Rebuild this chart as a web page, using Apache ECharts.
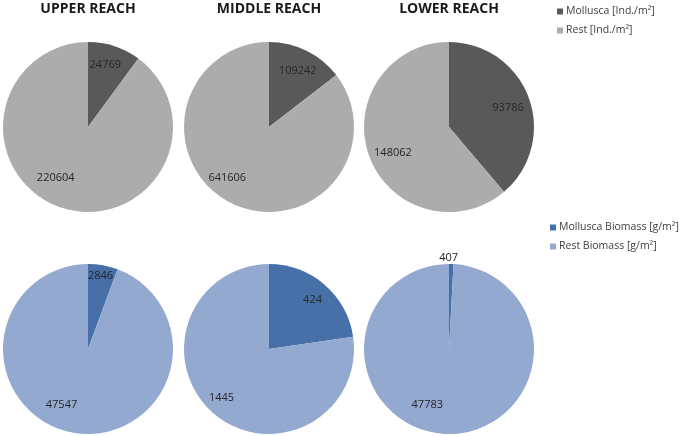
<!DOCTYPE html>
<html>
<head>
<meta charset="utf-8">
<script src="https://cdn.jsdelivr.net/npm/echarts@6/dist/echarts.min.js"></script>
<style>html,body{margin:0;padding:0;background:#fff}#c{width:685px;height:436px}</style>
</head>
<body>
<div id="c"></div>
<script>
// ---- data ----
const reaches = ['UPPER REACH', 'MIDDLE REACH', 'LOWER REACH'];
const abundanceNames = ['Mollusca [Ind./m²]', 'Rest [Ind./m²]'];
const biomassNames = ['Mollusca Biomass [g/m²]', 'Rest Biomass [g/m²]'];
const molluscaAbundance = [24769, 109242, 93786];
const restAbundance = [220604, 641606, 148062];
const molluscaBiomass = [2846, 424, 407];
const restBiomass = [47547, 1445, 47783];

// ---- styles ----
const grayColors = ['#595959', '#acacac'];
const blueColors = ['#4670a7', '#94a9d0'];
const centersX = [88, 269, 449];
const rowY = [127, 349];
const R = 85;
const FONT = 'Open Sans';
// fine label nudges (px) per [row][reach][slice]
const labelNudge = [
  [[[-3, 0], [-12, -11]], [[0, 2], [-13, -8]], [[-2, 3], [5, 3]]],
  [[[1, -9], [-15, -8]], [[1, 0], [-5, 0]], [[-2, -26], [-20, -9]]]
];

const chart = echarts.init(document.getElementById('c'), null, {renderer: 'canvas'});
const series = [];
const rows = [
  {names: abundanceNames, a: molluscaAbundance, b: restAbundance, colors: grayColors},
  {names: biomassNames, a: molluscaBiomass, b: restBiomass, colors: blueColors}
];
rows.forEach((row, ri) => {
  reaches.forEach((r, i) => {
    series.push({
      type: 'pie', silent: true, animation: false,
      center: [centersX[i], rowY[ri]], radius: [0, R],
      startAngle: 90, clockwise: true,
      label: {show: false}, labelLine: {show: false},
      itemStyle: {borderWidth: 0},
      data: [
        {name: row.names[0], value: row.a[i], itemStyle: {color: row.colors[0]}},
        {name: row.names[1], value: row.b[i], itemStyle: {color: row.colors[1]}}
      ]
    });
  });
});
// label-only transparent pies (labels sit at ~0.73 R)
rows.forEach((row, ri) => {
  reaches.forEach((r, i) => {
    series.push({
      type: 'pie', silent: true, animation: false, legendHoverLink: false,
      center: [centersX[i], rowY[ri]], radius: [0, R * 1.46],
      startAngle: 90, clockwise: true,
      labelLine: {show: false},
      itemStyle: {color: 'rgba(0,0,0,0)', borderWidth: 0},
      label: {show: true, position: 'inside', formatter: '{c}', color: '#262626',
              fontFamily: FONT, fontSize: 11},
      data: [
        {name: row.names[0] + ' ', value: row.a[i], label: {offset: labelNudge[ri][i][0]}},
        {name: row.names[1] + ' ', value: row.b[i], label: {offset: labelNudge[ri][i][1]}}
      ]
    });
  });
});

const titles = reaches.map((r, i) => ({
  text: r, left: centersX[i], top: 2, textAlign: 'center', padding: 0,
  textStyle: {fontFamily: FONT, fontSize: 14, fontWeight: 'bold', color: '#1a1a1a'}
}));

const legendBase = {
  orient: 'vertical', icon: 'rect', itemWidth: 6, itemHeight: 6, itemGap: 8,
  selectedMode: false,
  textStyle: {fontFamily: FONT, fontSize: 10.5, color: '#404040', padding: [0, 0, 0, -2]}
};
chart.setOption({
  backgroundColor: '#fff',
  title: titles,
  legend: [
    Object.assign({}, legendBase, {left: 552, top: 1,
      data: abundanceNames.map((n, k) => ({name: n, itemStyle: {color: grayColors[k]}}))}),
    Object.assign({}, legendBase, {left: 545, top: 217,
      data: biomassNames.map((n, k) => ({name: n, itemStyle: {color: blueColors[k]}}))})
  ],
  series: series
});
</script>
</body>
</html>
